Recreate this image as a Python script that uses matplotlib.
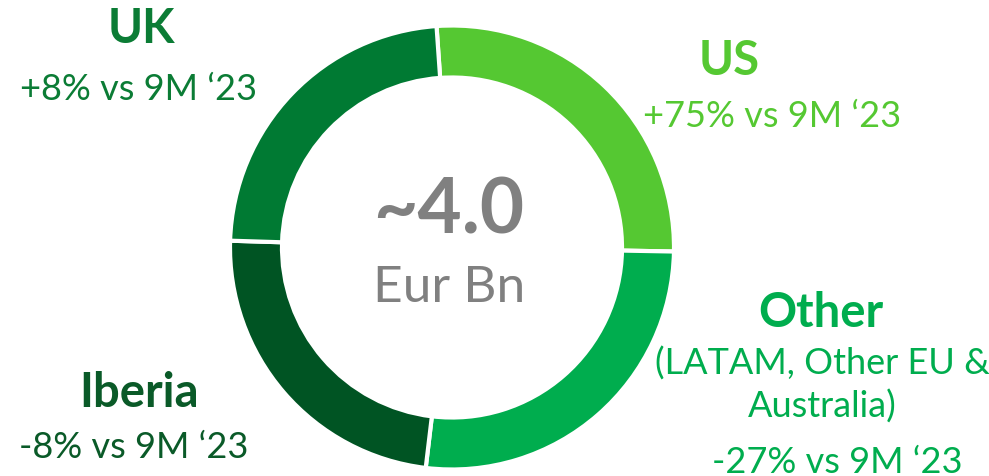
import matplotlib
matplotlib.use("Agg")
import matplotlib.pyplot as plt

# Data
regions = ["US", "Other", "Iberia", "UK"]
shares = [26.4, 26.6, 23.6, 23.4]
ring_colors = ["#55C832", "#00AD4E", "#005423", "#007A33"]
text_colors = ["#55C832", "#00AD4E", "#0A5A28", "#0B7C35"]
subtitles = ["+75% vs 9M \u201823", "-27% vs 9M \u201823", "-8% vs 9M \u201823", "+8% vs 9M \u201823"]
total_label = "~4.0"
unit_label = "Eur Bn"

W, H = 989, 476
fig = plt.figure(figsize=(W / 100, H / 100), dpi=100)
ax = fig.add_axes([0, 0, 1, 1])

cx, cy, R = 452, H - 247.5, 222
ax.pie(shares, colors=ring_colors, startangle=94, counterclock=False,
       center=(cx, cy), radius=R, frame=True,
       wedgeprops=dict(width=52, edgecolor="white", linewidth=3))
ax.set_xlim(0, W)
ax.set_ylim(0, H)
ax.set_aspect("equal")
ax.axis("off")

font = "Lato"
def t(x, y_px, s, size, color, weight="normal"):
    ax.text(x, H - y_px, s, fontsize=size, color=color, fontweight=weight,
            ha="center", va="baseline", family=font)

# center
t(449, 233, total_label, 55, "#808080", "bold")
t(449, 302, unit_label, 37, "#808080")

sub = 26
# UK
t(141, 43, regions[3], 34, text_colors[3], "bold")
t(138, 100, subtitles[3], sub, text_colors[3])
# US
t(729, 75, regions[0], 34, text_colors[0], "bold")
t(772, 127, subtitles[0], sub, text_colors[0])
# Other
t(821, 327, regions[1], 34, text_colors[1], "bold")
t(822, 375, "(LATAM, Other EU &", sub, text_colors[1])
t(822, 418, "Australia)", sub, text_colors[1])
t(837, 473, subtitles[1], sub, text_colors[1])
# Iberia
t(139, 407, regions[2], 34, text_colors[2], "bold")
t(134, 458, subtitles[2], sub, text_colors[2])

fig.savefig("out.png", dpi=100)
